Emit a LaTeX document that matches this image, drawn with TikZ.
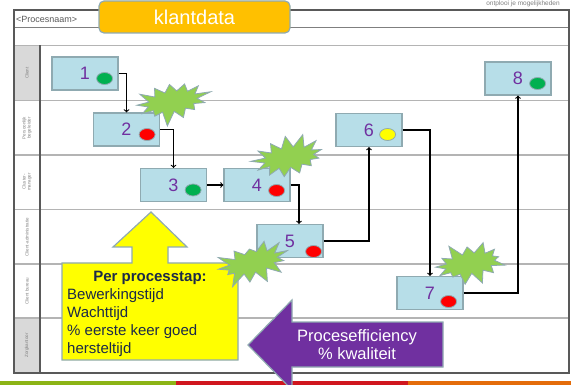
\documentclass[tikz,border=0pt]{standalone}
\usepackage{fontspec}
\setmainfont{Liberation Sans}
\usetikzlibrary{arrows, positioning, shapes.geometric, shapes.symbols}

\definecolor{boxfill}{HTML}{B7DEE8}
\definecolor{boxrand}{HTML}{8FAAB1}
\definecolor{nummer}{HTML}{7030A0}
\definecolor{groen}{HTML}{00B050}
\definecolor{rood}{HTML}{FF0000}
\definecolor{geel}{HTML}{FFFF00}
\definecolor{stergroen}{HTML}{92D050}
\definecolor{oranje}{HTML}{FFC000}
\definecolor{paars}{HTML}{7030A0}
\definecolor{navy}{HTML}{1C2A48}
\definecolor{rand}{HTML}{595959}
\definecolor{midgrijs}{HTML}{7F7F7F}
\definecolor{lijngrijs}{HTML}{B4B4B4}
\definecolor{vakgrijs}{HTML}{D9D9D9}
\definecolor{tekstgrijs}{HTML}{808080}
\definecolor{balkgroen}{HTML}{8CB416}
\definecolor{balkrood}{HTML}{D0161E}
\definecolor{balkoranje}{HTML}{E46C0A}

\begin{document}
\begin{tikzpicture}[x=1pt,y=-1pt,on grid,
    stap/.style={rectangle, draw=boxrand, fill=boxfill, line width=1.2pt, minimum width=66pt, minimum height=33pt, inner sep=0pt, text=nummer, font=\fontsize{18}{18}\selectfont},
    lamp/.style={ellipse, draw=boxrand, line width=0.8pt, fill=#1, minimum width=16pt, minimum height=12pt, inner sep=0pt},
    ster/.style={starburst, starburst points=13, starburst point height=15pt, random starburst=#1, draw=boxrand, line width=0.8pt, fill=stergroen, minimum width=80pt, minimum height=50pt, inner sep=0pt},
    pijl/.style={->, >=to, line width=1.1pt},
    baan/.style={draw=lijngrijs, line width=1.5pt},
    baannaam/.style={rotate=90, align=center, inner sep=0pt, text=tekstgrijs, font=\fontsize{4.5}{5}\selectfont},
    geeltekst/.style={inner sep=0pt, text=navy, font=\fontsize{15}{18}\selectfont}]
        \useasboundingbox (0,0) rectangle (571,385);
        \clip (0,0) rectangle (571,385);

        % kader en banen
        \fill[vakgrijs] (14,45.5) rectangle (40,100.5);
        \fill[vakgrijs] (14,318) rectangle (40,373);
        \draw[midgrijs, line width=1pt] (14,27.5) -- (569,27.5);
        \draw[baan] (14,45.5) -- (569,45.5);
        \foreach \y in {100.5,155,209.5,264,318}
            \draw[baan] (14,\y) -- (569,\y);
        \draw[rand, line width=1.2pt] (40,45.5) -- (40,373);
        \draw[rand, line width=1.2pt] (14,10) rectangle (569,373);

        \node[baannaam]   (n1)   at (27,73)      {Client};
        \node[baannaam]   (n2)   at (27,128)     {Persoonlijk\\begeleider};
        \node[baannaam]   (n3)   at (27,182)     {Cluster-\\manager};
        \node[baannaam]   (n4)   at (27,237)     {Client-administratie};
        \node[baannaam]   (n5)   at (27,291)     {Client bureau};
        \node[baannaam]   (n6)   at (27,345.5)   {Zorgkantoor};

        \node[anchor=west, inner sep=0pt, font=\fontsize{9}{9}\selectfont, text=rand] (naam) at (16,19) {<Procesnaam>};
        \node[inner sep=0pt, font=\fontsize{6.5}{6.5}\selectfont, text=tekstgrijs] (motto) at (523,4) {ontplooi je mogelijkheden};
        \node[draw=boxrand, fill=oranje, line width=1.2pt, rounded corners=5pt, minimum width=191pt, minimum height=32pt,
              text=white, font=\fontsize{20}{20}\selectfont] (titel) at (194.5,17) {klantdata};

        % processtappen
        \node[stap]   (s1)   at (85,73.5)                            {1};
        \node[stap]   (s2)   [below right=56pt and 41.5pt of s1]     {2};
        \node[stap]   (s3)   [below right=55.5pt and 47pt of s2]     {3};
        \node[stap]   (s4)   [right=83.5pt of s3]                    {4};
        \node[stap]   (s5)   [below right=56pt and 33pt of s4]       {5};
        \node[stap]   (s6)   [above right=111pt and 79pt of s5]      {6};
        \node[stap]   (s7)   [below right=163pt and 61pt of s6]      {7};
        \node[stap]   (s8)   [above right=214.5pt and 88pt of s7]    {8};

        \node[lamp=groen]   (l1)   at ([xshift=-14pt,yshift=-5pt]s1.east)     {};
        \node[lamp=rood]    (l2)   at ([xshift=-13pt,yshift=-5pt]s2.east)     {};
        \node[lamp=groen]   (l3)   at ([xshift=-14pt,yshift=-5pt]s3.east)     {};
        \node[lamp=rood]    (l4)   at ([xshift=-14pt,yshift=-5.5pt]s4.east)   {};
        \node[lamp=rood]    (l5)   at ([xshift=-10pt,yshift=-10.5pt]s5.east)  {};
        \node[lamp=geel]    (l6)   at ([xshift=-15pt,yshift=-4.5pt]s6.east)   {};
        \node[lamp=rood]    (l7)   at ([xshift=-15pt,yshift=-8.5pt]s7.east)   {};
        \node[lamp=groen]   (l8)   at ([xshift=-14pt,yshift=-5pt]s8.east)     {};

        \draw[pijl] (s1.east) -| (s2.north);
        \draw[pijl] (s2.east) -| (s3.north);
        \draw[pijl] (s3) -- (s4);
        \draw[pijl] (s4.east) -| ([xshift=9pt]s5.north);
        \draw[pijl] (s5.east) -| (s6.south);
        \draw[pijl] (s6.east) -| (s7.north);
        \draw[pijl] (s7.east) -| (s8.south);

        % gele pijl
        \draw[draw=boxrand, fill=geel, line width=1.2pt] (62,263) -- (132,263) -- (132,247) -- (113,247) -- (151,212)
            -- (187,247) -- (168,247) -- (168,263) -- (238,263) -- (238,360) -- (62,360) -- cycle;
        \node[geeltekst, anchor=base, font=\fontsize{15}{18}\bfseries] (kop) at (150,282) {Per processtap:};
        \foreach \t [count=\i] in {Bewerkingstijd, Wachttijd, {\% eerste keer goed}, hersteltijd}
            \node[geeltekst, anchor=base west] (r\i) at (67,281+18*\i) {\t};

        % balk onder
        \fill[balkgroen] (0,381) rectangle (176,386);
        \fill[balkrood] (176,381) rectangle (408,386);
        \fill[balkoranje] (408,381) rectangle (571,386);

        % paarse pijl
        \draw[draw=boxrand, fill=paars, line width=1.2pt] (443,322) -- (292,322) -- (292,300) -- (248,345)
            -- (292,390) -- (292,367) -- (443,367) -- cycle;
        \node[inner sep=0pt, align=center, text=white, font=\fontsize{16.5}{18}\selectfont] (eff) at (357,345) {Procesefficiency\\\% kwaliteit};

        % knelpunten
        \node[ster=101, rotate=10]   (w1)   [above right=28pt and 46pt of s2]   {};
        \node[ster=57, rotate=10]    (w2)   [above right=27.5pt and 32pt of s4] {};
        \node[ster=23, rotate=15]    (w3)   [below left=21.5pt and 37pt of s5]  {};
        \node[ster=88, rotate=10]    (w4)   [above right=29.5pt and 40pt of s7] {};
\end{tikzpicture}
\end{document}
